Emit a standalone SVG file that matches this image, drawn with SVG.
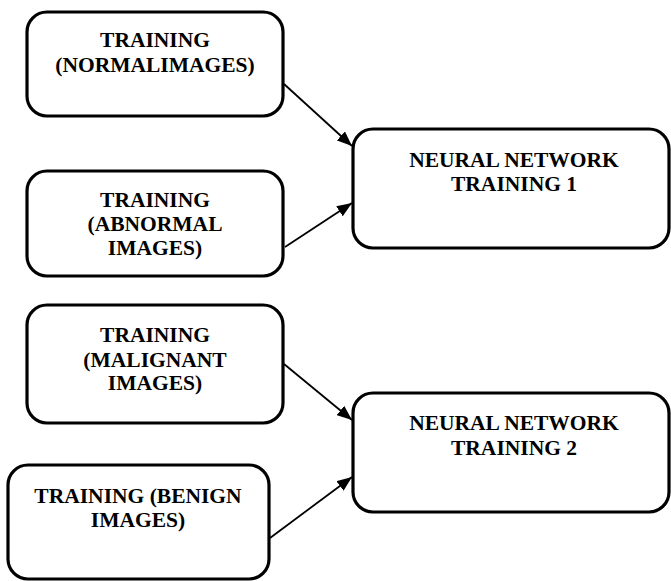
<svg xmlns="http://www.w3.org/2000/svg" width="671" height="581" viewBox="0 0 671 581">
<style>
.box{fill:#fff;stroke:#000;stroke-width:3.2}
.t{font-family:"Liberation Serif","Times New Roman",serif;font-weight:bold;font-size:21.5px;fill:#000;text-anchor:middle}
.c{stroke:#000;stroke-width:1.8;fill:none;marker-end:url(#ah)}
</style>
<defs>
<marker id="ah" viewBox="0 0 10 10" refX="10" refY="5" markerWidth="15" markerHeight="12" markerUnits="userSpaceOnUse" orient="auto" preserveAspectRatio="none">
<path d="M0,0 L10,5 L0,10 z" fill="#000"/>
</marker>
</defs>
<rect width="671" height="581" fill="#fff"/>
<g id="n1">
<rect class="box" x="27" y="12" width="256" height="104" rx="20"/>
<text class="t" x="155" y="47">TRAINING</text>
<text class="t" x="155" y="72">(NORMALIMAGES)</text>
</g>
<g id="n2">
<rect class="box" x="27" y="171" width="256" height="105" rx="20"/>
<text class="t" x="155" y="207">TRAINING</text>
<text class="t" x="155" y="231">(ABNORMAL</text>
<text class="t" x="155" y="255">IMAGES)</text>
</g>
<g id="n3">
<rect class="box" x="353" y="129" width="316" height="119" rx="20"/>
<text class="t" x="514" y="167">NEURAL NETWORK</text>
<text class="t" x="514" y="191">TRAINING 1</text>
</g>
<g id="n4">
<rect class="box" x="27" y="305" width="256" height="118" rx="20"/>
<text class="t" x="155" y="342">TRAINING</text>
<text class="t" x="155" y="367">(MALIGNANT</text>
<text class="t" x="155" y="390">IMAGES)</text>
</g>
<g id="n5">
<rect class="box" x="8" y="465" width="261" height="114" rx="20"/>
<text class="t" x="138" y="503">TRAINING (BENIGN</text>
<text class="t" x="138" y="527">IMAGES)</text>
</g>
<g id="n6">
<rect class="box" x="353" y="393" width="316" height="119" rx="20"/>
<text class="t" x="514" y="430">NEURAL NETWORK</text>
<text class="t" x="514" y="455">TRAINING 2</text>
</g>
<g id="connectors">
<line class="c" x1="284" y1="84" x2="352" y2="146"/>
<line class="c" x1="285" y1="247" x2="352" y2="203"/>
<line class="c" x1="284" y1="364" x2="352" y2="420"/>
<line class="c" x1="270" y1="538" x2="352" y2="477"/>
</g>
</svg>
